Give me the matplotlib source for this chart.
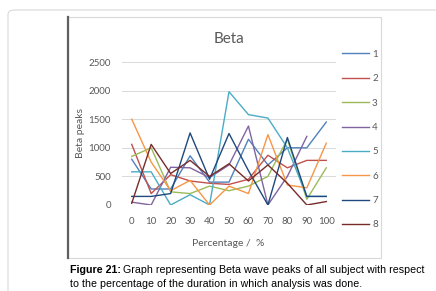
import numpy as np
import matplotlib.pyplot as plt
from matplotlib.patches import FancyBboxPatch, Rectangle
from matplotlib.lines import Line2D

PCT = [0, 10, 20, 30, 40, 50, 60, 70, 80, 90, 100]
S1 = [800, 280, 280, 860, 400, 400, 1150, 700, 1000, 1000, 1450]
S2 = [1060, 200, 530, 420, 380, 360, 450, 870, 650, 780, 780]
S3 = [850, 1000, 230, 200, 330, 250, 330, 500, 1150, 100, 650]
S4 = [50, 0, 660, 650, 480, 700, 1380, 0, 500, 1200, np.nan]
S5 = [580, 580, 0, 180, 0, 1980, 1580, 1520, 1000, 150, 150]
S6 = [1500, 750, 250, 430, 0, 330, 200, 1230, 350, 300, 1080]
S7 = [150, 150, 200, 1260, 450, 1250, 600, 0, 1180, 150, 150]
S8 = [30, 1060, 550, 780, 500, 720, 420, 700, 380, 0, 60]
SERIES = [S1, S2, S3, S4, S5, S6, S7, S8]
NAMES = ["1", "2", "3", "4", "5", "6", "7", "8"]
COLORS = ["#4F81BD", "#C0504D", "#9BBB59", "#8064A2",
          "#4BACC6", "#F79646", "#1F497D", "#772C2A"]
YTICKS = [0, 500, 1000, 1500, 2000, 2500]

W, H = 436, 291
fig = plt.figure(figsize=(W / 100, H / 100), dpi=100)

# outer frame and chart box
fig.patches.append(FancyBboxPatch((8 / W, -0.1), 1.2, (H - 10) / H + 0.1,
                                  boxstyle="round,pad=0,rounding_size=0.015",
                                  transform=fig.transFigure, fill=False,
                                  edgecolor="#d9d9d9", linewidth=0.8))
fig.patches.append(Rectangle((68 / W, 1 - 258 / H), (381 - 68) / W, (258 - 17) / H,
                             transform=fig.transFigure, fill=False,
                             edgecolor="#d9d9d9", linewidth=0.8))
fig.lines.append(Line2D([68 / W, 68 / W], [1 - 258 / H, 1 - 17 / H],
                        transform=fig.transFigure, color="#606060", linewidth=1.6))

ax = fig.add_axes([122 / W, 1 - 205 / H, (336 - 122) / W, (205 - 62) / H])
for vals, c, n in zip(SERIES, COLORS, NAMES):
    ax.plot(PCT, vals, color=c, linewidth=1.0, label=n)

ax.set_xlim(-5, 105)
ax.set_ylim(0, 2500)
ax.set_xticks(PCT)
ax.set_yticks(YTICKS)
ax.grid(True, axis="y", color="#d9d9d9", linewidth=0.7)
ax.set_axisbelow(True)
for s in ax.spines.values():
    s.set_visible(False)
ax.tick_params(length=0, labelsize=7, labelcolor="#595959", pad=8)
ax.tick_params(axis="x", pad=9)
for lab in ax.get_xticklabels() + ax.get_yticklabels():
    lab.set_family("Lato")

ax.set_title("Beta", fontsize=11, color="#595959", family="Lato", pad=14)
fig.text(80 / W, 1 - 133 / H, "Beta peaks", rotation=90, ha="center", va="center",
         fontsize=7.5, color="#595959", family="Lato")
fig.text(228 / W, 1 - 243 / H, "Percentage /  %", ha="center", va="center",
         fontsize=7.5, color="#595959", family="Lato")

handles, labels = ax.get_legend_handles_labels()
leg = fig.legend(handles, labels, loc="upper left", bbox_to_anchor=(338 / W, 1 - 46 / H),
                 frameon=False, fontsize=7, labelspacing=1.58, handlelength=2.8,
                 handletextpad=0.3, borderaxespad=0)
for t in leg.get_texts():
    t.set_color("#595959")
    t.set_family("Lato")

# caption: bold lead-in followed by regular text
cap_bold = fig.text(70 / W, 1 - 270 / H, "Figure 21:", fontsize=7.7, weight="bold",
                    family="Liberation Sans", va="center")
fig.canvas.draw()
bb = cap_bold.get_window_extent()
fig.text((bb.x1 + 2) / W, 1 - 270 / H,
         "Graph representing Beta wave peaks of all subject with respect",
         fontsize=7.7, family="Liberation Sans", va="center")
fig.text(70 / W, 1 - 284 / H, "to the percentage of the duration in which analysis was done.",
         fontsize=7.7, family="Liberation Sans", va="center")

fig.savefig("out.png", dpi=100)
